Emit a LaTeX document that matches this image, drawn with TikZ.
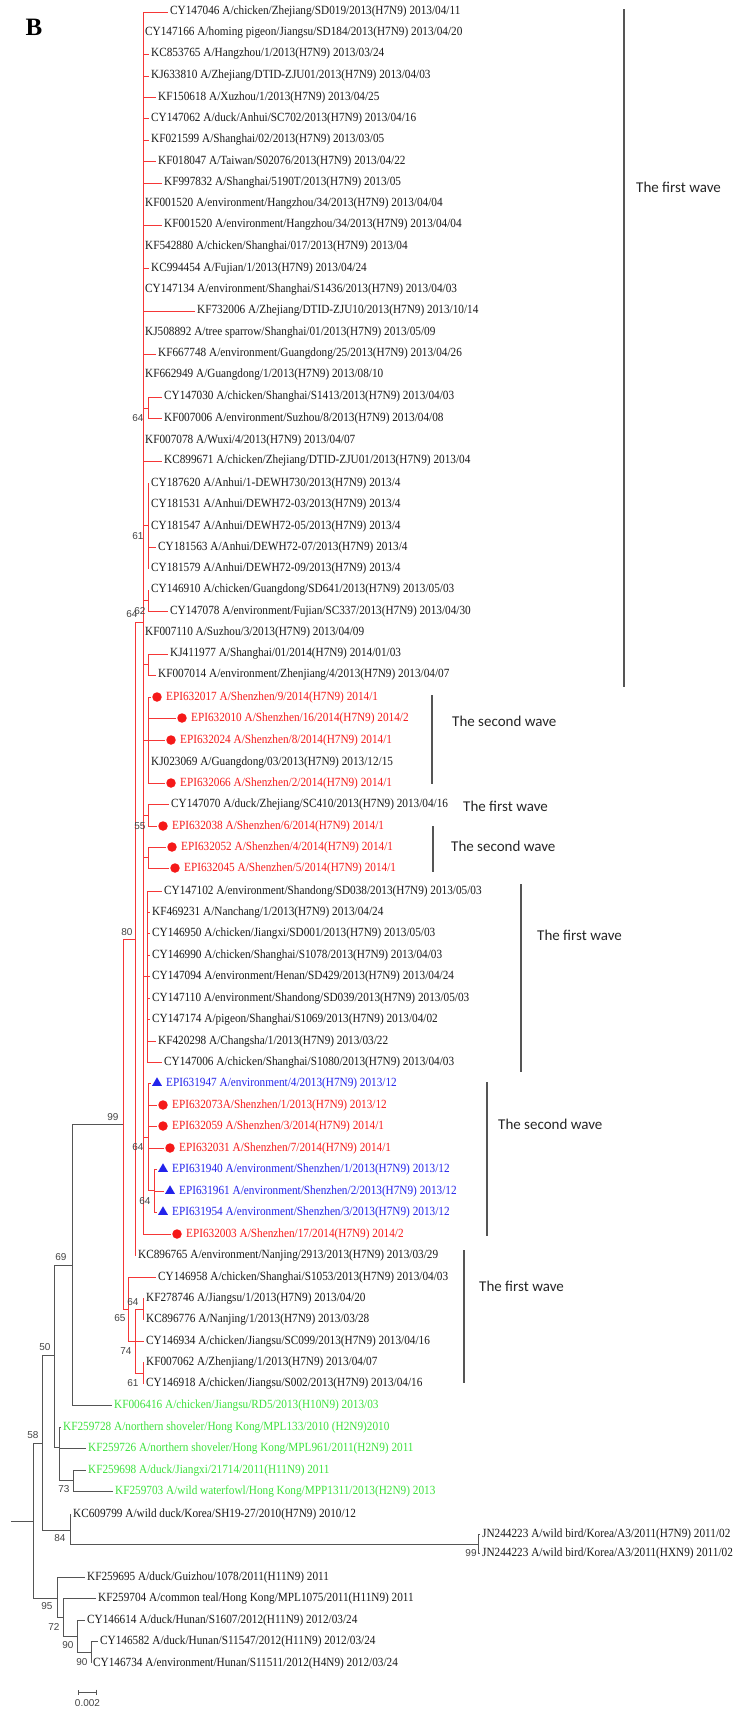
\documentclass[tikz,border=0pt]{standalone}
\usepackage{fontspec}
\setmainfont{Liberation Serif}
\newfontfamily\taxonfamily[FakeStretch=0.9]{Liberation Serif}
\newfontfamily\bootfamily{Liberation Sans}
\newfontfamily\wavefamily{Carlito}
\usepackage{xcolor}
\usepackage{tikz}
\usetikzlibrary{arrows.meta,shapes.geometric}

\definecolor{treered}{RGB}{245,55,55}
\definecolor{treegray}{RGB}{85,85,85}
\definecolor{hitred}{RGB}{245,25,25}
\definecolor{envblue}{RGB}{35,35,235}
\definecolor{wildgreen}{RGB}{60,225,60}
\definecolor{taxonblack}{RGB}{25,25,25}

\tikzset{
  grayline/.style={draw=treegray,line width=0.8pt},
  redline/.style={draw=treered,line width=0.8pt},
  branch/.style={grayline},
  taxon/.style={anchor=west,inner sep=0pt,text=taxonblack,font=\taxonfamily\fontsize{12.5}{14}\selectfont},
  greentaxon/.style={taxon,text=wildgreen},
  boot/.style={inner sep=0pt,text=treegray!80!black,font=\bootfamily\fontsize{10}{11}\selectfont},
  hit/.style={circle,fill=hitred,inner sep=0pt,minimum size=9.5pt},
  env/.style={regular polygon,regular polygon sides=3,fill=envblue,inner sep=0pt,minimum size=11.5pt},
  wavebar/.style={draw=treegray,line width=1.4pt},
  wavetext/.style={anchor=west,inner sep=0pt,text=black!85,font=\wavefamily\fontsize{15}{17}\selectfont}
}

% tip with branch from its parent: [label style]{parent}{name}{x,y}{text}
\newcommand{\taxonleaf}[5][taxon]{%
  \coordinate (#3) at (#4);
  \draw[branch] (#2) |- (#3);
  \node[#1] (#3-l) at ([xshift=2pt]#3) {#5};}
% tip with red dot
\newcommand{\hitleaf}[4]{%
  \coordinate (#2) at (#3);
  \draw[branch] (#1) |- (#2);
  \node[hit] (#2-m) at ([xshift=6pt]#2) {};
  \node[taxon,text=hitred] (#2-l) at ([xshift=15pt]#2) {#4};}
% tip with blue triangle
\newcommand{\envleaf}[4]{%
  \coordinate (#2) at (#3);
  \draw[branch] (#1) |- (#2);
  \node[env] (#2-m) at ([xshift=6pt]#2) {};
  \node[taxon,text=envblue] (#2-l) at ([xshift=15pt]#2) {#4};}

\begin{document}
\begin{tikzpicture}[x=1pt,y=-1pt]
\useasboundingbox (0,0) rectangle (748,1709);
\node[font=\bfseries\fontsize{25}{25}\selectfont,inner sep=0pt] (panel) at (34,27) {B};

% backbone (gray)
\coordinate (rootstem) at (11,1521);
\coordinate (root) at (33,1521);
\coordinate (n42) at (42,1443);
\coordinate (n50) at (54,1355);
\coordinate (n69) at (72,1265);
\coordinate (n99) at (123,1124);
\coordinate (ngreen) at (59,1447);
\coordinate (n73) at (73,1480);
\coordinate (n84) at (70,1530);
\coordinate (nJN) at (478,1544);
\coordinate (n95) at (57,1598);
\coordinate (n72) at (63,1617);
\coordinate (n90a) at (77,1636);
\coordinate (n90b) at (91,1652);
\draw[grayline] (rootstem) -- (root);
\foreach \a/\b in {root/n42,root/n95,n42/n50,n42/n84,n50/n69,n50/ngreen,n69/n99,ngreen/n73,n84/nJN,n95/n72,n72/n90a,n90a/n90b}
  \draw[grayline] (\a) |- (\b);

\taxonleaf[greentaxon]{n69}{kf006416}{112,1405}{KF006416 A/chicken/Jiangsu/RD5/2013(H10N9) 2013/03}
\taxonleaf[greentaxon]{ngreen}{kf259728}{61,1427}{KF259728 A/northern shoveler/Hong Kong/MPL133/2010 (H2N9)2010}
\taxonleaf[greentaxon]{ngreen}{kf259726}{86,1448}{KF259726 A/northern shoveler/Hong Kong/MPL961/2011(H2N9) 2011}
\taxonleaf[greentaxon]{n73}{kf259698}{86,1470}{KF259698 A/duck/Jiangxi/21714/2011(H11N9) 2011}
\taxonleaf[greentaxon]{n73}{kf259703}{113,1491}{KF259703 A/wild waterfowl/Hong Kong/MPP1311/2013(H2N9) 2013}
\taxonleaf{n84}{kc609799}{71,1514}{KC609799 A/wild duck/Korea/SH19-27/2010(H7N9) 2010/12}
\taxonleaf{nJN}{jn244223a}{480,1534}{JN244223 A/wild bird/Korea/A3/2011(H7N9) 2011/02}
\taxonleaf{nJN}{jn244223b}{480,1553}{JN244223 A/wild bird/Korea/A3/2011(HXN9) 2011/02}
\taxonleaf{n95}{kf259695}{85,1577}{KF259695 A/duck/Guizhou/1078/2011(H11N9) 2011}
\taxonleaf{n72}{kf259704}{96,1598}{KF259704 A/common teal/Hong Kong/MPL1075/2011(H11N9) 2011}
\taxonleaf{n90a}{cy146614}{85,1620}{CY146614 A/duck/Hunan/S1607/2012(H11N9) 2012/03/24}
\taxonleaf{n90b}{cy146582}{98,1641}{CY146582 A/duck/Hunan/S11547/2012(H11N9) 2012/03/24}
\taxonleaf{n90b}{cy146734}{91,1663}{CY146734 A/environment/Hunan/S11511/2012(H4N9) 2012/03/24}

% H7N9 clade (red)
\begin{scope}[branch/.style={redline}]
\coordinate (n80) at (135,939);
\coordinate (n64a) at (143,622);
\coordinate (n65) at (128,1309);
\coordinate (n74) at (135,1341);
\coordinate (n64f) at (143,1309);
\coordinate (n61b) at (143,1373);
\coordinate (n64b) at (148,408);
\coordinate (n61a) at (148,525.5);
\coordinate (n62) at (148,600);
\coordinate (n31) at (148,664);
\coordinate (nS2a) at (148,740);
\coordinate (n55) at (148,815);
\coordinate (nS2b) at (148,857.5);
\coordinate (nT) at (147,976.5);
\coordinate (n64c) at (148,1137);
\coordinate (n64d) at (154,1190);
\foreach \a/\b in {n99/n80,n99/n65,n80/n64a,n65/n74,n74/n64f,n74/n61b,n64a/n64b,n64a/n61a,n64a/n62,n64a/n31,n64a/nS2a,n64a/n55,n64a/nS2b,n64a/nT,n64a/n64c,n64c/n64d}
  \draw[redline] (\a) |- (\b);

\taxonleaf{n64a}{cy147046}{168,12}{CY147046 A/chicken/Zhejiang/SD019/2013(H7N9) 2013/04/11}
\taxonleaf{n64a}{cy147166}{143,33}{CY147166 A/homing pigeon/Jiangsu/SD184/2013(H7N9) 2013/04/20}
\taxonleaf{n64a}{kc853765}{149,54}{KC853765 A/Hangzhou/1/2013(H7N9) 2013/03/24}
\taxonleaf{n64a}{kj633810}{149,76}{KJ633810 A/Zhejiang/DTID-ZJU01/2013(H7N9) 2013/04/03}
\taxonleaf{n64a}{kf150618}{156,97}{KF150618 A/Xuzhou/1/2013(H7N9) 2013/04/25}
\taxonleaf{n64a}{cy147062}{149,118}{CY147062 A/duck/Anhui/SC702/2013(H7N9) 2013/04/16}
\taxonleaf{n64a}{kf021599}{149,140}{KF021599 A/Shanghai/02/2013(H7N9) 2013/03/05}
\taxonleaf{n64a}{kf018047}{156,161}{KF018047 A/Taiwan/S02076/2013(H7N9) 2013/04/22}
\taxonleaf{n64a}{kf997832}{162,183}{KF997832 A/Shanghai/5190T/2013(H7N9) 2013/05}
\taxonleaf{n64a}{kf001520a}{143,204}{KF001520 A/environment/Hangzhou/34/2013(H7N9) 2013/04/04}
\taxonleaf{n64a}{kf001520b}{162,225}{KF001520 A/environment/Hangzhou/34/2013(H7N9) 2013/04/04}
\taxonleaf{n64a}{kf542880}{143,247}{KF542880 A/chicken/Shanghai/017/2013(H7N9) 2013/04}
\taxonleaf{n64a}{kc994454}{149,268}{KC994454 A/Fujian/1/2013(H7N9) 2013/04/24}
\taxonleaf{n64a}{cy147134}{143,290}{CY147134 A/environment/Shanghai/S1436/2013(H7N9) 2013/04/03}
\taxonleaf{n64a}{kf732006}{195,311}{KF732006 A/Zhejiang/DTID-ZJU10/2013(H7N9) 2013/10/14}
\taxonleaf{n64a}{kj508892}{143,333}{KJ508892 A/tree sparrow/Shanghai/01/2013(H7N9) 2013/05/09}
\taxonleaf{n64a}{kf667748}{156,354}{KF667748 A/environment/Guangdong/25/2013(H7N9) 2013/04/26}
\taxonleaf{n64a}{kf662949}{143,375}{KF662949 A/Guangdong/1/2013(H7N9) 2013/08/10}
\taxonleaf{n64b}{cy147030}{162,397}{CY147030 A/chicken/Shanghai/S1413/2013(H7N9) 2013/04/03}
\taxonleaf{n64b}{kf007006}{162,418}{KF007006 A/environment/Suzhou/8/2013(H7N9) 2013/04/08}
\taxonleaf{n64a}{kf007078}{143,440}{KF007078 A/Wuxi/4/2013(H7N9) 2013/04/07}
\taxonleaf{n64a}{kc899671}{162,461}{KC899671 A/chicken/Zhejiang/DTID-ZJU01/2013(H7N9) 2013/04}
\taxonleaf{n61a}{cy187620}{149,483}{CY187620 A/Anhui/1-DEWH730/2013(H7N9) 2013/4}
\taxonleaf{n61a}{cy181531}{149,504}{CY181531 A/Anhui/DEWH72-03/2013(H7N9) 2013/4}
\taxonleaf{n61a}{cy181547}{149,526}{CY181547 A/Anhui/DEWH72-05/2013(H7N9) 2013/4}
\taxonleaf{n61a}{cy181563}{156,547}{CY181563 A/Anhui/DEWH72-07/2013(H7N9) 2013/4}
\taxonleaf{n61a}{cy181579}{149,568}{CY181579 A/Anhui/DEWH72-09/2013(H7N9) 2013/4}
\taxonleaf{n62}{cy146910}{149,590}{CY146910 A/chicken/Guangdong/SD641/2013(H7N9) 2013/05/03}
\taxonleaf{n62}{cy147078}{168,611}{CY147078 A/environment/Fujian/SC337/2013(H7N9) 2013/04/30}
\taxonleaf{n64a}{kf007110}{143,632}{KF007110 A/Suzhou/3/2013(H7N9) 2013/04/09}
\taxonleaf{n31}{kj411977}{168,654}{KJ411977 A/Shanghai/01/2014(H7N9) 2014/01/03}
\taxonleaf{n31}{kf007014}{156,675}{KF007014 A/environment/Zhenjiang/4/2013(H7N9) 2013/04/07}
\hitleaf{nS2a}{epi632017}{151,697}{EPI632017 A/Shenzhen/9/2014(H7N9) 2014/1}
\hitleaf{nS2a}{epi632010}{176,718}{EPI632010 A/Shenzhen/16/2014(H7N9) 2014/2}
\hitleaf{nS2a}{epi632024}{165,740}{EPI632024 A/Shenzhen/8/2014(H7N9) 2014/1}
\taxonleaf{nS2a}{kj023069}{149,762}{KJ023069 A/Guangdong/03/2013(H7N9) 2013/12/15}
\hitleaf{nS2a}{epi632066}{165,783}{EPI632066 A/Shenzhen/2/2014(H7N9) 2014/1}
\taxonleaf{n55}{cy147070}{169,804}{CY147070 A/duck/Zhejiang/SC410/2013(H7N9) 2013/04/16}
\hitleaf{n55}{epi632038}{157,826}{EPI632038 A/Shenzhen/6/2014(H7N9) 2014/1}
\hitleaf{nS2b}{epi632052}{166,847}{EPI632052 A/Shenzhen/4/2014(H7N9) 2014/1}
\hitleaf{nS2b}{epi632045}{169,868}{EPI632045 A/Shenzhen/5/2014(H7N9) 2014/1}
\taxonleaf{nT}{cy147102}{162,891}{CY147102 A/environment/Shandong/SD038/2013(H7N9) 2013/05/03}
\taxonleaf{nT}{kf469231}{150,912}{KF469231 A/Nanchang/1/2013(H7N9) 2013/04/24}
\taxonleaf{nT}{cy146950}{150,933}{CY146950 A/chicken/Jiangxi/SD001/2013(H7N9) 2013/05/03}
\taxonleaf{nT}{cy146990}{150,955}{CY146990 A/chicken/Shanghai/S1078/2013(H7N9) 2013/04/03}
\taxonleaf{nT}{cy147094}{150,976}{CY147094 A/environment/Henan/SD429/2013(H7N9) 2013/04/24}
\taxonleaf{nT}{cy147110}{150,998}{CY147110 A/environment/Shandong/SD039/2013(H7N9) 2013/05/03}
\taxonleaf{nT}{cy147174}{150,1019}{CY147174 A/pigeon/Shanghai/S1069/2013(H7N9) 2013/04/02}
\taxonleaf{nT}{kf420298}{156,1041}{KF420298 A/Changsha/1/2013(H7N9) 2013/03/22}
\taxonleaf{nT}{cy147006}{162,1062}{CY147006 A/chicken/Shanghai/S1080/2013(H7N9) 2013/04/03}
\envleaf{n64c}{epi631947}{151,1083}{EPI631947 A/environment/4/2013(H7N9) 2013/12}
\hitleaf{n64c}{epi632073}{157,1105}{EPI632073A/Shenzhen/1/2013(H7N9) 2013/12}
\hitleaf{n64c}{epi632059}{157,1126}{EPI632059 A/Shenzhen/3/2014(H7N9) 2014/1}
\hitleaf{n64c}{epi632031}{164,1148}{EPI632031 A/Shenzhen/7/2014(H7N9) 2014/1}
\envleaf{n64d}{epi631940}{157,1169}{EPI631940 A/environment/Shenzhen/1/2013(H7N9) 2013/12}
\envleaf{n64d}{epi631961}{164,1191}{EPI631961 A/environment/Shenzhen/2/2013(H7N9) 2013/12}
\envleaf{n64d}{epi631954}{157,1212}{EPI631954 A/environment/Shenzhen/3/2013(H7N9) 2013/12}
\hitleaf{n64a}{epi632003}{171,1234}{EPI632003 A/Shenzhen/17/2014(H7N9) 2014/2}
\taxonleaf{n80}{kc896765}{136,1255}{KC896765 A/environment/Nanjing/2913/2013(H7N9) 2013/03/29}
\taxonleaf{n65}{cy146958}{156,1277}{CY146958 A/chicken/Shanghai/S1053/2013(H7N9) 2013/04/03}
\taxonleaf{n64f}{kf278746}{144,1298}{KF278746 A/Jiangsu/1/2013(H7N9) 2013/04/20}
\taxonleaf{n64f}{kc896776}{144,1319}{KC896776 A/Nanjing/1/2013(H7N9) 2013/03/28}
\taxonleaf{n74}{cy146934}{144,1341}{CY146934 A/chicken/Jiangsu/SC099/2013(H7N9) 2013/04/16}
\taxonleaf{n61b}{kf007062}{144,1362}{KF007062 A/Zhenjiang/1/2013(H7N9) 2013/04/07}
\taxonleaf{n61b}{cy146918}{144,1383}{CY146918 A/chicken/Jiangsu/S002/2013(H7N9) 2013/04/16}
\end{scope}

% bootstrap values
\foreach \nm/\x/\y/\v in {b64b/138/418/64, b61a/138/536/61, b62/140/611/62, b64a/132/614/64,
  b55/140/826/55, b80/127/932/80, b99/113/1117/99, b64c/138/1147/64, b64d/145/1201/64,
  b69/61/1257/69, b64f/133/1302/64, b65/120/1318/65, b50/45/1347/50, b74/126/1351/74,
  b61b/133/1383/61, b58/33/1435/58, b73/64/1489/73, b84/60/1538/84, bJN/471/1553/99,
  b95/47/1606/95, b72/54/1627/72, b90a/68/1645/90, b90b/82/1662/90}
  \node[boot] (\nm) at (\x,\y) {\v};

% epidemic waves
\foreach \nm/\x/\ya/\yb in {w1/624/9/687, w2/432/695/784, w3/433/826/872, w4/521/884/1072, w5/487/1082/1236, w6/464/1250/1383} {
  \coordinate (\nm top) at (\x,\ya);
  \coordinate (\nm bot) at (\x,\yb);
  \draw[wavebar] (\nm top) -- (\nm bot);
}
\node[wavetext] (w1txt) at (636,187) {The first wave};
\node[wavetext] (w2txt) at (452,721) {The second wave};
\node[wavetext] (wmtxt) at (463,806) {The first wave};
\node[wavetext] (w3txt) at (451,846) {The second wave};
\node[wavetext] (w4txt) at (537,935) {The first wave};
\node[wavetext] (w5txt) at (498,1124) {The second wave};
\node[wavetext] (w6txt) at (479,1286) {The first wave};

% scale bar
\coordinate (sbl) at (78,1692);
\coordinate (sbr) at (97,1692);
\draw[grayline,{Bar[width=5pt]}-{Bar[width=5pt]}] (sbl) -- (sbr);
\node[boot] (sblabel) at (87.5,1703) {0.002};
\end{tikzpicture}
\end{document}
